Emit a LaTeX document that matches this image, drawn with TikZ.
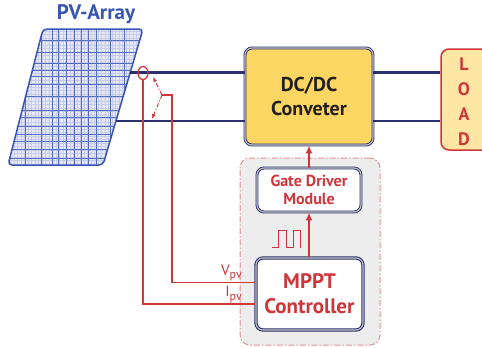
\documentclass[tikz,border=0pt]{standalone}
\usepackage{fontspec}
\setmainfont{PT Sans}
\usetikzlibrary{arrows.meta,shapes.geometric,calc}
\definecolor{navy}{HTML}{2B3170}
\definecolor{pvblue}{HTML}{3A54B4}
\definecolor{pvfill}{HTML}{E6E8F6}
\definecolor{sigred}{HTML}{D0353A}
\definecolor{boxyellow}{HTML}{FCD663}
\definecolor{loadfill}{HTML}{FDE6A4}
\definecolor{panelgrey}{HTML}{EDEDED}
\definecolor{darktext}{HTML}{231F20}
\tikzset{
  wire/.style={navy, line width=2.2pt},
  sigline/.style={sigred, line width=1.6pt},
  sigarrow/.style={sigred, line width=2pt, -{Latex[length=8pt,width=7pt]}},
  probe/.style={sigred, line width=0.9pt, dash pattern=on 4pt off 2pt on 1pt off 2pt, -{Latex[length=5pt,width=4pt]}},
  blockbox/.style={draw=navy, line width=0.9pt, double=gray!45, double distance=1.1pt,
    rounded corners=7pt, align=center, font=\bfseries},
  convbox/.style={blockbox, fill=boxyellow, minimum width=128pt, minimum height=97pt,
    text=darktext, font=\bfseries\fontsize{20}{24}\selectfont},
  ctrlbox/.style={blockbox, fill=white, text=sigred},
  loadbox/.style={draw=sigred, line width=1.5pt, fill=loadfill, rounded corners=8pt,
    minimum width=52pt, minimum height=101pt},
  groupbox/.style={draw=sigred!55, fill=panelgrey, line width=1pt,
    dash pattern=on 6pt off 2pt on 1.5pt off 2pt, rounded corners=10pt,
    minimum width=140pt, minimum height=187pt},
  loadletter/.style={text=sigred, font=\bfseries\fontsize{18}{18}\selectfont},
  siglabel/.style={text=sigred, font=\fontsize{15}{15}\selectfont, inner sep=1pt, anchor=south east},
}
\newcommand{\pvsub}[1]{#1\raisebox{-3.5pt}{\fontsize{12}{12}\selectfont pv}}
\begin{document}
\begin{tikzpicture}[x=1pt,y=-1pt]
\clip (0,0) rectangle (482,348);

% photovoltaic panel with its cell grid
\node[text=pvblue, font=\bfseries\fontsize{21}{21}\selectfont] (pvlabel) at (96,14) {PV-Array};
\begin{scope}
  \clip[rounded corners=4pt] (43,29) -- (143,29) -- (103,165) -- (8,165) -- cycle;
  \fill[pvfill] (0,25) rectangle (150,170);
  \foreach \x in {7,10.5,...,146} \draw[pvblue!30, line width=0.6pt] (\x,25) -- (\x,170);
  \foreach \y in {31,34.5,...,166} \draw[pvblue!30, line width=0.6pt] (0,\y) -- (150,\y);
  \foreach \x in {25,41,52,58,66,74,81,88,96,110,124}
    \draw[pvblue!85, line width=0.7pt] (\x,25) -- (\x,170);
  \foreach \y in {40,52,63,70,76,84,96,110,117,126,134,141,149,158}
    \draw[pvblue!85, line width=0.7pt] (0,\y) -- (150,\y);
\end{scope}
\draw[pvblue, line width=1.5pt, rounded corners=4pt] (43,29) -- (143,29) -- (103,165) -- (8,165) -- cycle;
\coordinate (pvp) at (130,72.5);
\coordinate (pvn) at (116,121);

% converter and load
\node[convbox] (dc) at (309,96.5) {DC/DC\\Conveter};
\node[loadbox] (load) at (467,99.5) {};
\node[loadletter] (lL) at (464,64) {L};
\node[loadletter] (lO) at (464,89) {O};
\node[loadletter] (lA) at (464,114) {A};
\node[loadletter] (lD) at (464,139) {D};

\coordinate (dcp) at (dc.west |- pvp);
\coordinate (dcn) at (dc.west |- pvn);
\draw[wire] (pvp) -- (dcp);
\draw[wire] (pvn) -- (dcn);
\draw[wire] (dc.east |- pvp) -- (load.west |- pvp);
\draw[wire] (dc.east |- pvn) -- (load.west |- pvn);

% control group
\node[groupbox] (grp) at (310,251.5) {};
\node[ctrlbox, minimum width=104pt, minimum height=44pt, font=\bfseries\fontsize{16}{18}\selectfont] (gate) at (309,190) {Gate Driver\\Module};
\node[ctrlbox, minimum width=107pt, minimum height=72pt, line width=1.1pt, font=\bfseries\fontsize{21}{25}\selectfont] (mppt) at (309.5,294) {MPPT\\Controller};

\draw[sigarrow] (mppt.north -| gate.south) -- (gate.south);
\draw[sigarrow] (gate.north) -- (gate.north |- dc.south);

% gate pulse train
\draw[sigred, line width=1pt] (272,247.5) -- (278.5,247.5) -- (278.5,230.5) -- (286,230.5)
  -- (286,247.5) -- (293,247.5) -- (293,230.5) -- (300.5,230.5) -- (300.5,247.5);

% current sensor and voltage probe
\node[draw=sigred, line width=1.3pt, ellipse, minimum width=10pt, minimum height=13pt, inner sep=0pt] (cs) at (143,73) {};
\coordinate (vs) at (162,95);
\coordinate (vbend) at (172,95);
\coordinate (vin) at ($(mppt.west)+(0,-11.5)$);
\coordinate (iin) at ($(mppt.west)+(0,10)$);
\draw[probe] (vs) -- (153,77);
\draw[probe] (vs) -- (152,119);
\draw[sigline] (vs) -- (vbend) |- (vin);
\draw[sigline] (cs.south) |- (iin);
\node[siglabel] (vlab) at (243,282.5) {\pvsub{V}};
\node[siglabel] (ilab) at (243,304) {\pvsub{I}};
\end{tikzpicture}
\end{document}
